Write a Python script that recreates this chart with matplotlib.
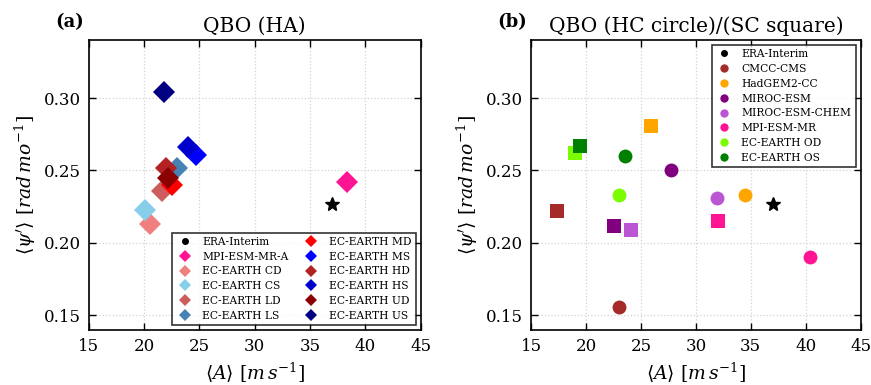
import matplotlib
matplotlib.use("Agg")
import matplotlib.pyplot as plt

plt.rcParams["font.family"] = "DejaVu Serif"
plt.rcParams["mathtext.fontset"] = "dejavuserif"

# panel (a): HA experiments
ha_names = ["ERA-Interim", "MPI-ESM-MR-A", "EC-EARTH CD", "EC-EARTH CS",
            "EC-EARTH LD", "EC-EARTH LS", "EC-EARTH MD", "EC-EARTH MS",
            "EC-EARTH HD", "EC-EARTH HS", "EC-EARTH UD", "EC-EARTH US"]
ha_colors = ["black", "deeppink", "lightcoral", "skyblue", "indianred", "steelblue",
             "red", "blue", "firebrick", "mediumblue", "darkred", "navy"]
ha_amp = [37.0, 38.3, 20.5, 20.1, 21.6, 23.0, 22.5, 24.7, 22.0, 24.0, 22.2, 21.8]
ha_per = [0.227, 0.242, 0.213, 0.223, 0.236, 0.252, 0.240, 0.261, 0.252, 0.266, 0.245, 0.304]

# panel (b): HC (circles) and SC (squares)
cmip_names = ["ERA-Interim", "CMCC-CMS", "HadGEM2-CC", "MIROC-ESM",
              "MIROC-ESM-CHEM", "MPI-ESM-MR", "EC-EARTH OD", "EC-EARTH OS"]
cmip_colors = ["black", "brown", "orange", "purple", "mediumorchid", "deeppink",
               "lawngreen", "green"]
hc_amp = [37.0, 23.0, 34.5, 27.7, 31.9, 40.4, 23.0, 23.5]
hc_per = [0.227, 0.156, 0.233, 0.250, 0.231, 0.190, 0.233, 0.260]
sc_amp = [None, 17.3, 25.9, 22.5, 24.1, 32.0, 19.0, 19.4]
sc_per = [None, 0.222, 0.281, 0.212, 0.209, 0.215, 0.262, 0.267]

fig = plt.figure(figsize=(8.71, 3.85), dpi=100)
ax1 = fig.add_axes([0.102, 0.143, 0.381, 0.753])
ax2 = fig.add_axes([0.610, 0.143, 0.378, 0.753])

xlabel = r"$\langle A \rangle\ [m\,s^{-1}]$"
ylabel = r"$\langle \psi^{\prime} \rangle\ [rad\,mo^{-1}]$"

# big markers on the axes, small proxies for the legend
for name, color, x, y in zip(ha_names, ha_colors, ha_amp, ha_per):
    if name == "ERA-Interim":
        ax1.plot(x, y, "*", color=color, markersize=10, zorder=3)
        ax1.plot([], [], "o", color=color, markersize=4, label=name)
    else:
        ax1.plot(x, y, "D", color=color, markersize=11.5, markeredgewidth=0, zorder=2)
        ax1.plot([], [], "D", color=color, markersize=6, markeredgewidth=0, label=name)

for i, (name, color) in enumerate(zip(cmip_names, cmip_colors)):
    if name == "ERA-Interim":
        ax2.plot(hc_amp[i], hc_per[i], "*", color=color, markersize=10, zorder=3)
        ax2.plot([], [], "o", color=color, markersize=4, label=name)
        continue
    ax2.plot(hc_amp[i], hc_per[i], "o", color=color, markersize=10,
             markeredgewidth=0, zorder=2)
    ax2.plot(sc_amp[i], sc_per[i], "s", color=color, markersize=10,
             markeredgewidth=0, zorder=2)
    ax2.plot([], [], "o", color=color, markersize=6, markeredgewidth=0, label=name)

for ax, title, tag in [(ax1, "QBO (HA)", "(a)"),
                       (ax2, "QBO (HC circle)/(SC square)", "(b)")]:
    ax.set_xlim(15, 45)
    ax.set_ylim(0.14, 0.34)
    ax.set_xticks([15, 20, 25, 30, 35, 40, 45])
    ax.set_yticks([0.15, 0.20, 0.25, 0.30])
    ax.tick_params(direction="in", top=True, right=True, labelsize=12,
                   length=5, width=1, pad=6)
    ax.grid(True, linestyle=":", color="lightgray", linewidth=0.9)
    ax.set_axisbelow(True)
    for spine in ax.spines.values():
        spine.set_linewidth(1.2)
    ax.set_xlabel(xlabel, fontsize=13.5, labelpad=4)
    ax.set_ylabel(ylabel, fontsize=13.5, labelpad=4)
    ax.set_title(title, fontsize=14.5, pad=6)
    ax.text(-0.102, 1.045, tag, transform=ax.transAxes, fontsize=13,
            fontweight="bold", va="baseline")

legend_style = dict(fontsize=7.7, frameon=True, fancybox=False, edgecolor="black",
                    handlelength=1.5, labelspacing=0.45, borderpad=0.4,
                    handletextpad=0.9, borderaxespad=0.45)
leg1 = ax1.legend(loc="lower right", ncol=2, columnspacing=1.4, **legend_style)
leg1.get_frame().set_linewidth(1.2)
leg2 = ax2.legend(loc="upper right", **legend_style)
leg2.get_frame().set_linewidth(1.2)

fig.savefig("out.png", dpi=100)
